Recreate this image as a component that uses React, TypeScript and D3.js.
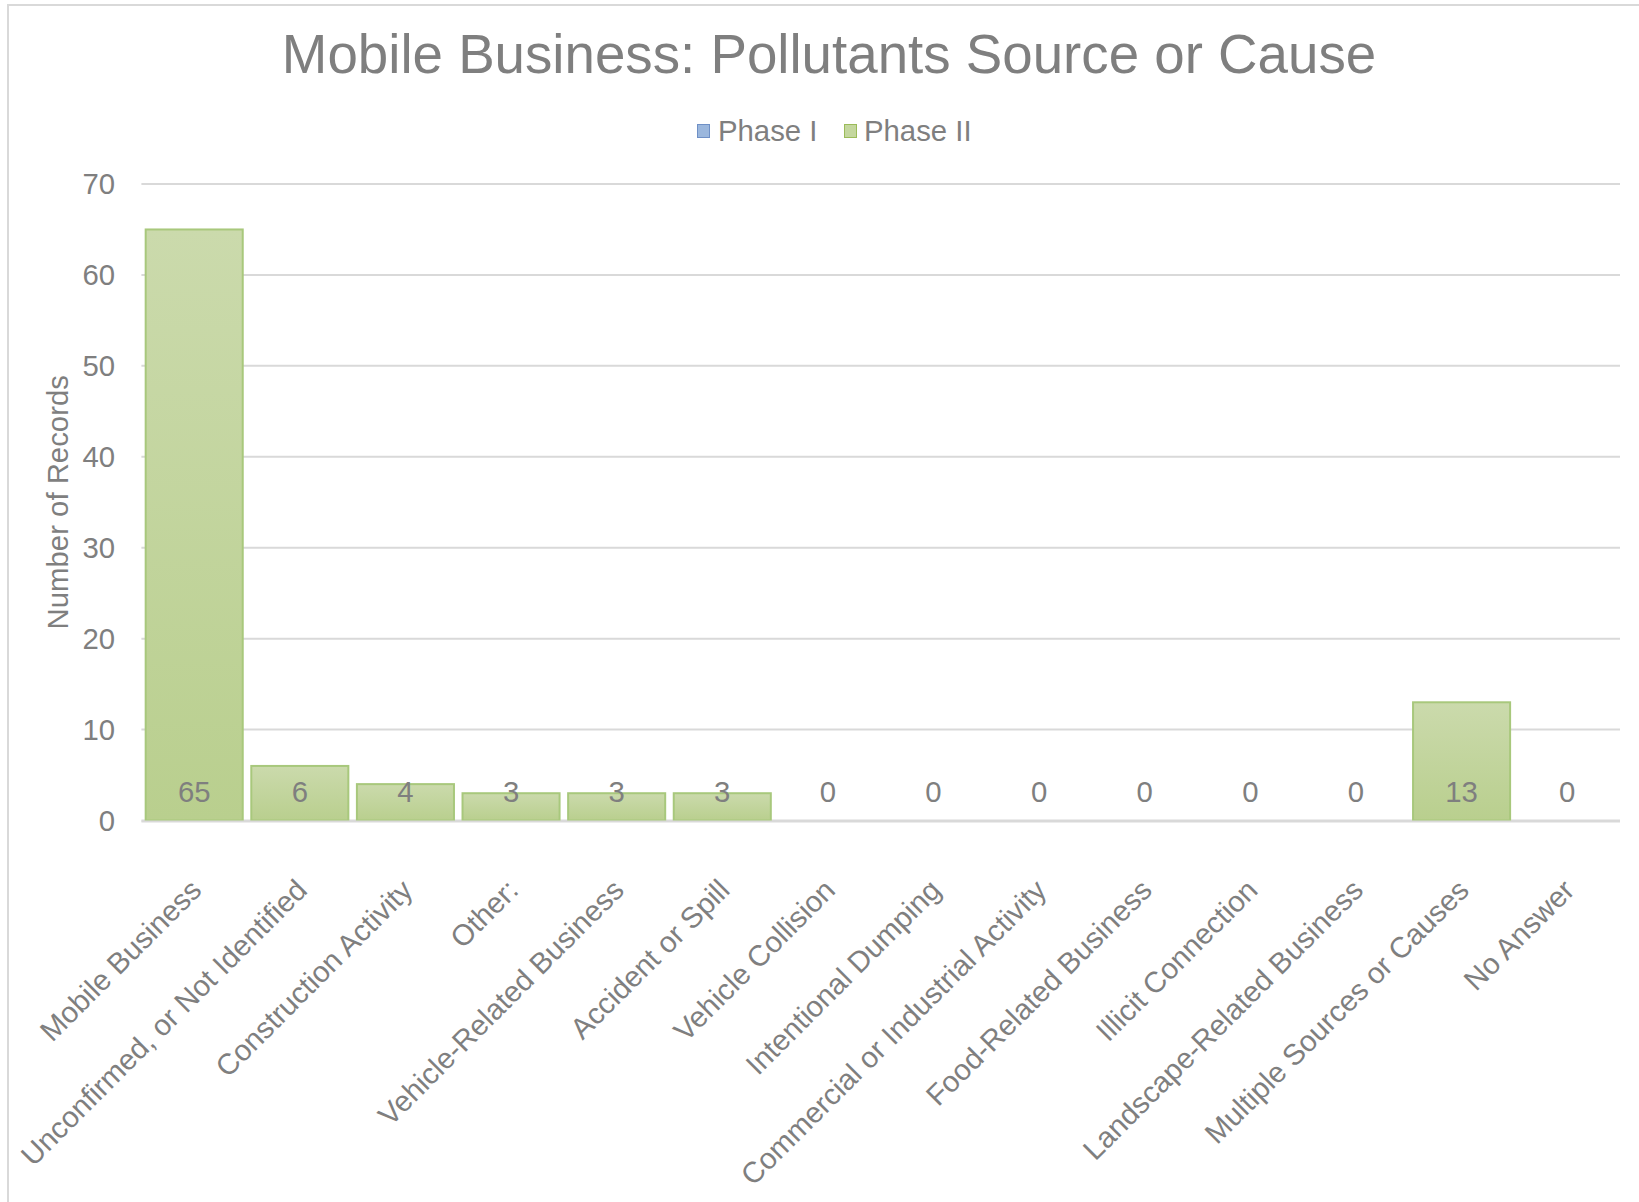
import React from "react";
import * as d3 from "d3";

const categories: string[] = [
  "Mobile Business",
  "Unconfirmed, or Not Identified",
  "Construction Activity",
  "Other:",
  "Vehicle-Related Business",
  "Accident or Spill",
  "Vehicle Collision",
  "Intentional Dumping",
  "Commercial or Industrial Activity",
  "Food-Related Business",
  "Illicit Connection",
  "Landscape-Related Business",
  "Multiple Sources or Causes",
  "No Answer",
];
const phase2Values: number[] = [65, 6, 4, 3, 3, 3, 0, 0, 0, 0, 0, 0, 13, 0];
const yTicks: number[] = [0, 10, 20, 30, 40, 50, 60, 70];
const seriesNames: string[] = ["Phase I", "Phase II"];

const W = 1639;
const H = 1202;
const FONT = "'Liberation Sans', Arial, sans-serif";
const TXT = "#7f7f7f";
const FS = 29.33;

export default function App() {
  const x = d3
    .scaleBand<string>()
    .domain(categories)
    .range([141.4, 1620])
    .paddingInner(0.081)
    .paddingOuter(0.0405);
  const y = d3.scaleLinear().domain([0, 70]).range([820.5, 184]);

  return (
    <svg
      width={W}
      height={H}
      style={{ position: "absolute", left: 0, top: 0, background: "#fff" }}
      fontFamily={FONT}
    >
      <defs>
        <linearGradient id="g2" x1="0" y1="0" x2="0" y2="1">
          <stop offset="0%" stopColor="#cbdaac" />
          <stop offset="100%" stopColor="#b9cf8e" />
        </linearGradient>
      </defs>
      {/* chart border */}
      <rect x={8} y={5} width={W + 20} height={H + 20} fill="#fff" stroke="#d9d9d9" strokeWidth={2} />

      {/* title */}
      <text x={829} y={73} textAnchor="middle" fontSize={54.7} fill={TXT}>
        Mobile Business: Pollutants Source or Cause
      </text>

      {/* legend */}
      <g>
        <rect x={697.5} y={124.5} width={12} height={13} fill="#9bb7dd" stroke="#6f90c6" strokeWidth={1} />
        <text x={718} y={141} fontSize={FS} fill={TXT}>{seriesNames[0]}</text>
        <rect x={844.5} y={124.5} width={12} height={13} fill="#c4d79e" stroke="#9bbb59" strokeWidth={1} />
        <text x={864} y={141} fontSize={FS} fill={TXT}>{seriesNames[1]}</text>
      </g>

      {/* gridlines */}
      {yTicks.map((t) => (
        <line
          key={t}
          x1={141.4}
          x2={1620}
          y1={y(t)}
          y2={y(t)}
          stroke="#d9d9d9"
          strokeWidth={2}
        />
      ))}
      {/* y tick labels */}
      {yTicks.map((t) => (
        <text key={"l" + t} x={115} y={y(t)} dy="0.35em" textAnchor="end" fontSize={FS} fill={TXT}>
          {t}
        </text>
      ))}
      {/* y axis title */}
      <text
        transform={`translate(68,${(184 + 820.5) / 2}) rotate(-90)`}
        textAnchor="middle"
        fontSize={FS}
        fill={TXT}
      >
        Number of Records
      </text>

      {/* bars */}
      {categories.map((c, i) => {
        const v = phase2Values[i];
        if (v <= 0) return null;
        return (
          <rect
            key={c}
            x={x(c)!}
            y={y(v)}
            width={x.bandwidth()}
            height={y(0) - y(v)}
            fill="url(#g2)"
            stroke="#a8c87c"
            strokeWidth={2}
          />
        );
      })}
      {/* base axis line on top */}
      <line x1={141.4} x2={1620} y1={y(0) + 1} y2={y(0) + 1} stroke="#d9d9d9" strokeWidth={2} />

      {/* data labels */}
      {categories.map((c, i) => (
        <text
          key={"d" + c}
          x={x(c)! + x.bandwidth() / 2}
          y={802}
          textAnchor="middle"
          fontSize={FS}
          fill={TXT}
        >
          {phase2Values[i]}
        </text>
      ))}

      {/* x labels */}
      {categories.map((c) => (
        <text
          key={"x" + c}
          transform={`translate(${x(c)! + x.bandwidth() / 2 + 9},892) rotate(-45)`}
          textAnchor="end"
          fontSize={FS}
          fill={TXT}
        >
          {c}
        </text>
      ))}
    </svg>
  );
}
